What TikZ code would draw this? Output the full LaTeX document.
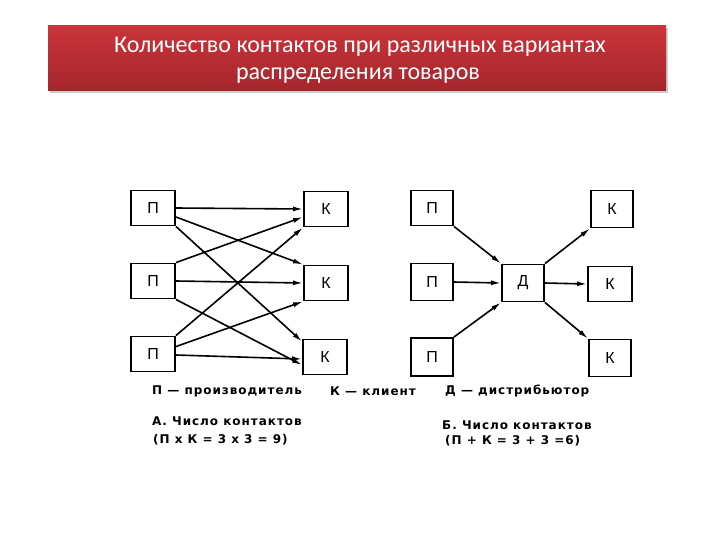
\documentclass[tikz,border=0pt]{standalone}
\usepackage{fontspec}
\setmainfont{Carlito}
\newfontfamily\legfont[LetterSpace=8]{DejaVu Sans Bold}
\newfontfamily\boxfont{Liberation Sans}
\usetikzlibrary{arrows.meta,calc}
\definecolor{bannertop}{HTML}{C9343A}
\definecolor{bannerbot}{HTML}{A5262C}
\tikzset{
  pbox/.style={draw, line width=1.9pt, minimum width=44pt, minimum height=35pt, inner sep=0pt, font=\boxfont\fontsize{16}{16}\selectfont},
  conn/.style={line width=1.6pt, -{Latex[length=10pt,width=5pt]}},
  legend/.style={anchor=west, inner sep=0pt, font=\legfont\fontsize{12}{14}\selectfont},
  title/.style={text=white, font=\fontsize{24}{28}\selectfont, inner sep=0pt}
}
\begin{document}
\begin{tikzpicture}[x=1pt,y=-1pt]
\useasboundingbox (0,0) rectangle (720,540);
% banner
\fill[black!20] (50,28) rectangle (668,93);
\shade[top color=bannertop, bottom color=bannerbot] (48,26) rectangle (666,91);
\node[title] (t1) at (360,47) {Количество контактов при различных вариантах};
\node[title] (t2) at (358,76) {распределения товаров};
% left diagram
\node[pbox] (p1) at (153,208) {П};
\node[pbox] (p2) at (153,281) {П};
\node[pbox] (p3) at (153,354) {П};
\node[pbox] (k1) at (326,209) {К};
\node[pbox] (k2) at (326,283) {К};
\node[pbox] (k3) at (325,357) {К};
\draw[conn] (p1.east) -- (k1.west);
\draw[conn] ([yshift=-9pt]p1.east) -- (k2.north west);
\draw[conn] (p1.south east) -- ([yshift=-3pt]k3.north west);
\draw[conn] (p2.north east) -- ([yshift=-8pt]k1.west);
\draw[conn] (p2.east) -- (k2.west);
\draw[conn] (p2.south east) -- ([yshift=-8pt]k3.west);
\draw[conn] (p3.north east) -- (k1.south west);
\draw[conn] ([yshift=-11pt]p3.north east) -- (k2.south west);
\draw[conn] ([yshift=-1pt]p3.east) -- ([yshift=-2pt]k3.west);
% right diagram
\node[pbox,minimum width=42pt] (q1) at (432,208) {П};
\node[pbox,minimum width=42pt,minimum height=37pt] (q2) at (432,282) {П};
\node[pbox,minimum width=42pt,minimum height=38pt] (q3) at (432,357) {П};
\node[pbox,minimum width=42pt,minimum height=37pt] (d) at (523,283) {Д};
\node[pbox,minimum width=42pt,minimum height=37pt] (m1) at (612,209) {К};
\node[pbox,minimum width=44pt] (m2) at (610,284) {К};
\node[pbox,minimum width=42pt,minimum height=37pt] (m3) at (610,358) {К};
\draw[conn] (q1.south east) -- (d.north west);
\draw[conn] (q2.east) -- (d.west);
\draw[conn] (q3.north east) -- (d.south west);
\draw[conn] (d.north east) -- (m1.south west);
\draw[conn] (d.east) -- (m2.west);
\draw[conn] (d.south east) -- (m3.north west);
% legend
\node[legend] (l1) at (152,391) {П — производитель};
\node[legend] (l2) at (330,391) {К — клиент};
\node[legend] (l3) at (445,391) {Д — дистрибьютор};
\node[legend] (a1) at (152,421) {А. Число контактов};
\node[legend] (a2) at (153,440) {(П x К = 3 x 3 = 9)};
\node[legend] (b1) at (442,425) {Б. Число контактов};
\node[legend] (b2) at (445,441) {(П + К = 3 + 3 =6)};
\end{tikzpicture}
\end{document}
